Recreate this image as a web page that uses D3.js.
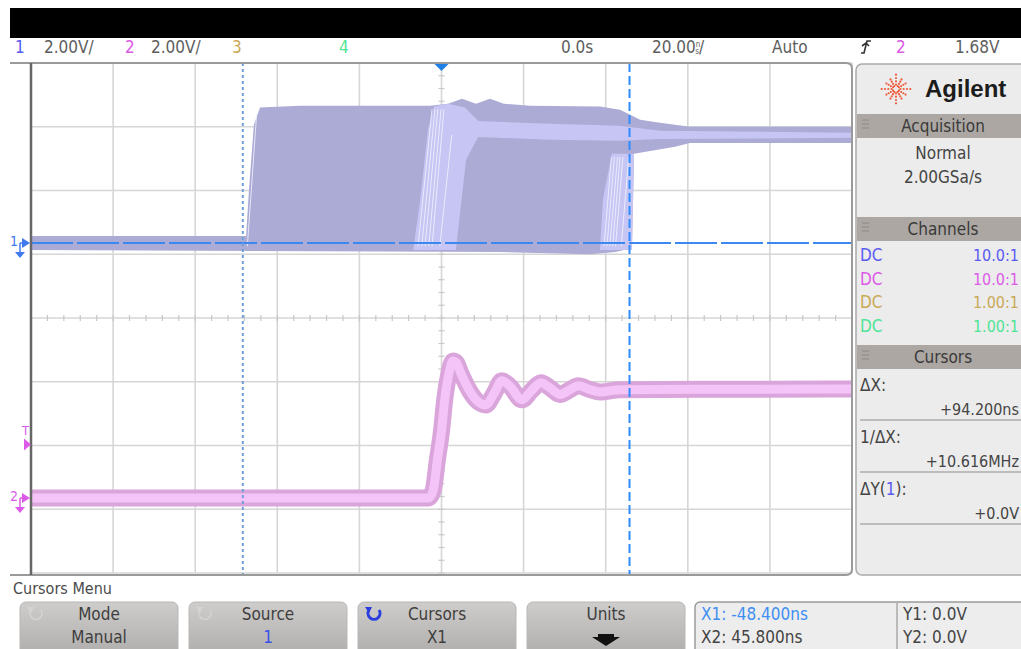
<!DOCTYPE html>
<html>
<head>
<meta charset="utf-8">
<script src="https://cdn.jsdelivr.net/npm/d3@7"></script>
<style>
    html, body { margin: 0; padding: 0; background: #fff; overflow: hidden; }
    svg { display: block; }
    text { font-family: 'DejaVu Sans Condensed', 'Liberation Sans Narrow', sans-serif; }
</style>
</head>
<body>
<svg id="scope" width="1021" height="649"></svg>
<script>
// Scope settings
const timePerDiv = 20;          // ns / div
const voltsPerDiv = [2, 2];     // ch1, ch2
const ch1Offset = 1.176;        // ground position, divisions from centre
const ch2Offset = -2.824;
const triggerLevel = 1.68;      // V on ch2
const cursorX = [-48.4, 45.8];  // ns
const cursorY = 0.0;            // V on ch1

// Channel 1 persistence envelope [ns, V]
const ch1Upper = [[-100, 0.22], [-47.6, 0.22], [-46.9, 1.67], [-45.7, 3.71], [-44.2, 4.25], [-34.5, 4.31],
    [-2.8, 4.31], [1.6, 4.37], [5.0, 4.53], [8.4, 4.37], [11.8, 4.53], [15.2, 4.37], [21.6, 4.31],
    [38.6, 4.28], [43.5, 4.18], [48.4, 3.87], [53.2, 3.77], [60.5, 3.65], [100, 3.65]];
const ch1Lower = [[100, 3.14], [60.5, 3.14], [56.9, 3.02], [50.8, 2.89], [46.9, 2.80], [46.4, -0.16],
    [42.3, -0.28], [36.2, -0.35], [14.3, -0.28], [-100, -0.22]];
// brighter (denser) regions of the persistence display
const ch1MidBand = [[6.9, 3.84], [26.4, 3.74], [43.5, 3.68], [53.2, 3.52], [100, 3.46],
    [100, 3.30], [53.2, 3.26], [43.5, 3.21], [26.4, 3.24], [8.9, 3.33]];
const ch1EdgeBundleA = [[-6.9, -0.22], [3.5, -0.22], [6.0, 2.61], [8.9, 3.33], [8.9, 3.84],
    [5.7, 4.25], [1.6, 4.37], [-1.8, 4.28], [-3.3, 3.55], [-5.2, 1.35]];
const ch1EdgeBundleC = [[38.6, -0.22], [46.4, -0.22], [46.9, 2.80], [41.5, 2.80], [39.3, 1.35]];
// individual edges visible in the bundles [t bottom, t top, V top]
const ch1Edges = [[-47.3, -45.0, 4.1], [-5.7, -2.3, 4.2], [-4.8, -1.6, 4.2], [-4.0, -0.9, 4.2],
    [-3.1, -0.1, 4.2], [-2.3, 0.6, 4.2], [-0.4, 2.5, 3.4], [39.6, 41.4, 2.7], [40.3, 42.1, 2.7],
    [41.0, 42.9, 2.7], [41.7, 43.5, 2.7], [42.4, 44.2, 2.7], [43.8, 45.6, 2.7]];

// Channel 2 trace centre [ns, V]
const ch2Trace = [[-100, 0], [-20, 0], [-3.2, 0], [-2.0, 0.25], [-1.0, 1.2], [0, 2.1], [0.8, 3.1],
    [1.8, 3.9], [2.8, 4.3], [3.6, 4.25], [4.6, 3.95], [6.9, 3.35], [8.9, 3.02], [10.8, 2.92],
    [12.8, 3.28], [14.7, 3.68], [16.7, 3.50], [19.6, 3.08], [22.0, 3.38], [24.2, 3.62],
    [26.4, 3.46], [28.9, 3.25], [31.3, 3.40], [33.3, 3.52], [36.2, 3.40], [38.6, 3.33],
    [43.5, 3.40], [100, 3.42]];

// Texts
const channelNames = ['1', '2', '3', '4'];
const channelScales = ['2.00V/', '2.00V/'];
const probeRatios = ['10.0:1', '10.0:1', '1.00:1', '1.00:1'];
const channelColors = ['#5a5af2', '#dc5ae8', '#c9a955', '#4fe496'];
const acqLines = ['Normal', '2.00GSa/s'];
const cursorReadout = [['ΔX:', '+94.200ns'], ['1/ΔX:', '+10.616MHz'], ['ΔY(1):', '+0.0V']];
const softkeys = [['Mode', 'Manual'], ['Source', '1'], ['Cursors', 'X1'], ['Units', '']];

const svg = d3.select('#scope');

// plot geometry
const plotL = 31, plotR = 852, plotT = 63, plotB = 573;
const x = d3.scaleLinear().domain([-5 * timePerDiv, 5 * timePerDiv]).range([plotL, plotR]);
const yDiv = d3.scaleLinear().domain([-4, 4]).range([plotB, plotT]);
const y1 = v => yDiv(ch1Offset + v / voltsPerDiv[0]);
const y2 = v => yDiv(ch2Offset + v / voltsPerDiv[1]);
const fmt = f => v => d3.format(f)(v).replace('\u2212', '-');

// top black bar
svg.append('rect').attr('x', 10).attr('y', 8).attr('width', 1011).attr('height', 30).attr('fill', '#000');

// grid
const grid = svg.append('g');
grid.selectAll('.vg').data(x.ticks(10)).enter().append('line')
    .attr('x1', d => x(d)).attr('x2', d => x(d)).attr('y1', plotT).attr('y2', plotB)
    .style('stroke', '#d6d6d6').style('stroke-width', 1.6);
grid.selectAll('.hg').data(yDiv.ticks(8)).enter().append('line')
    .attr('x1', plotL).attr('x2', plotR).attr('y1', d => yDiv(d)).attr('y2', d => yDiv(d))
    .style('stroke', '#d6d6d6').style('stroke-width', 1.6);
// minor ticks on centre lines
grid.selectAll('.mx').data(d3.range(-100, 100.01, 4)).enter().append('line')
    .attr('x1', d => x(d)).attr('x2', d => x(d)).attr('y1', yDiv(0) - 3).attr('y2', yDiv(0) + 3)
    .style('stroke', '#c8c8c8').style('stroke-width', 1.2);
grid.selectAll('.my').data(d3.range(-4, 4.01, 0.2)).enter().append('line')
    .attr('x1', x(0) - 3).attr('x2', x(0) + 3).attr('y1', d => yDiv(d)).attr('y2', d => yDiv(d))
    .style('stroke', '#c8c8c8').style('stroke-width', 1.2);

// channel 1
const line1 = d3.line().x(d => x(d[0])).y(d => y1(d[1]));
svg.append('path').attr('d', line1(ch1Upper.concat(ch1Lower)) + 'Z')
    .style('fill', '#acabd6');
[ch1MidBand, ch1EdgeBundleA, ch1EdgeBundleC].forEach(poly => {
    svg.append('path').attr('d', line1(poly) + 'Z').style('fill', '#c6c5f3');
});
svg.selectAll('.edge').data(ch1Edges).enter().append('path')
    .attr('d', d => line1([[d[0], -0.1], [d[1], d[2]]]))
    .style('stroke', '#f4f4ff').style('stroke-width', 1).style('fill', 'none').style('opacity', 0.8);

// channel 2
const line2 = d3.line().x(d => x(d[0])).y(d => y2(d[1])).curve(d3.curveMonotoneX);
svg.append('path').attr('d', line2(ch2Trace))
    .style('fill', 'none').style('stroke', '#d9a5da').style('stroke-width', 17)
    .style('stroke-linejoin', 'round');
svg.append('path').attr('d', line2(ch2Trace))
    .style('fill', 'none').style('stroke', '#f4c3f7').style('stroke-width', 9)
    .style('stroke-linejoin', 'round');

// cursors
svg.append('line').attr('x1', plotL).attr('x2', plotR).attr('y1', y1(cursorY)).attr('y2', y1(cursorY))
    .style('stroke', '#3a88f0').style('stroke-width', 2).style('stroke-dasharray', '42,4');
svg.append('line').attr('x1', x(cursorX[0])).attr('x2', x(cursorX[0])).attr('y1', plotT).attr('y2', plotB + 2)
    .style('stroke', '#6f9fd8').style('stroke-width', 2).style('stroke-dasharray', '3,3');
svg.append('line').attr('x1', x(cursorX[1])).attr('x2', x(cursorX[1])).attr('y1', plotT).attr('y2', plotB + 2)
    .style('stroke', '#2e8cff').style('stroke-width', 2).style('stroke-dasharray', '9,4');

// graticule frame
svg.append('path')
    .attr('d', `M10,${plotT} H${plotR - 6} Q${plotR},${plotT} ${plotR},${plotT + 6} V${plotB - 4} Q${plotR},${plotB + 2} ${plotR - 6},${plotB + 2} H10`)
    .style('fill', 'none').style('stroke', '#9a9a9a').style('stroke-width', 2);
svg.append('line').attr('x1', plotL).attr('x2', plotL).attr('y1', plotT).attr('y2', plotB + 2)
    .style('stroke', '#666').style('stroke-width', 2.5);

// trigger position marker
svg.append('path').attr('d', `M${x(0) - 7},${plotT + 1} L${x(0) + 7},${plotT + 1} L${x(0)},${plotT + 8}Z`)
    .style('fill', '#1f7fe6');

// left ground / trigger markers
function groundMarker(yy, label, color) {
    const g = svg.append('g').style('fill', color).style('stroke', color);
    g.append('text').attr('x', 10).attr('y', yy + 3).style('font-size', '14px').style('stroke', 'none').text(label);
    g.append('path').attr('d', `M22,${yy - 5} L30,${yy} L22,${yy + 5}Z`).style('stroke', 'none');
    g.append('line').attr('x1', 20).attr('x2', 20).attr('y1', yy).attr('y2', yy + 9).style('stroke-width', 1.5);
    g.append('line').attr('x1', 20).attr('x2', 26).attr('y1', yy).attr('y2', yy).style('stroke-width', 1.5);
    g.append('path').attr('d', `M15,${yy + 9} L25,${yy + 9} L20,${yy + 15}Z`).style('stroke', 'none');
}
groundMarker(y1(0), channelNames[0], '#3f79ee');
groundMarker(y2(0), channelNames[1], '#dc5ae8');
const yT = y2(triggerLevel);
svg.append('text').attr('x', 22).attr('y', yT - 9).style('font-size', '13px').style('fill', '#dc5ae8').text('T');
svg.append('path').attr('d', `M24,${yT - 6} L31,${yT} L24,${yT + 6}Z`).style('fill', '#dc5ae8');

// header row
const hdrY = 53, hdrSize = '17px', grey = '#5e5e5e';
const hdr = svg.append('g').style('font-size', hdrSize);
hdr.append('text').attr('x', 15).attr('y', hdrY).style('fill', channelColors[0]).text(channelNames[0]);
hdr.append('text').attr('x', 44).attr('y', hdrY).style('fill', grey).text(channelScales[0]);
hdr.append('text').attr('x', 125).attr('y', hdrY).style('fill', channelColors[1]).text(channelNames[1]);
hdr.append('text').attr('x', 151).attr('y', hdrY).style('fill', grey).text(channelScales[1]);
hdr.append('text').attr('x', 232).attr('y', hdrY).style('fill', channelColors[2]).text(channelNames[2]);
hdr.append('text').attr('x', 339).attr('y', hdrY).style('fill', channelColors[3]).text(channelNames[3]);
hdr.append('text').attr('x', 561).attr('y', hdrY).style('fill', grey).text('0.0s');
const tb = hdr.append('text').attr('x', 652).attr('y', hdrY).style('fill', grey);
tb.append('tspan').text(fmt('.2f')(timePerDiv));
tb.append('tspan').attr('dy', -6).style('font-size', '8px').text('n');
tb.append('tspan').attr('dx', -5).attr('dy', 7).style('font-size', '8px').text('s');
tb.append('tspan').attr('dy', -1).text('/');
hdr.append('text').attr('x', 772).attr('y', hdrY).style('fill', grey).text('Auto');
hdr.append('path').attr('d', 'M861,53 L864,53 L867,41 L871,41 M862,46 L866,43 L869,46')
    .style('fill', 'none').style('stroke', '#333').style('stroke-width', 1.6);
hdr.append('text').attr('x', 896).attr('y', hdrY).style('fill', channelColors[1]).text(channelNames[1]);
hdr.append('text').attr('x', 955).attr('y', hdrY).style('fill', grey).text(fmt('.2f')(triggerLevel) + 'V');

// right side panel
const pX = 856;
svg.append('rect').attr('x', pX).attr('y', 64).attr('width', 180).attr('height', 511).attr('rx', 6)
    .style('fill', '#ececec').style('stroke', '#a9a9a9').style('stroke-width', 1.5);

// Agilent spark logo
const logo = svg.append('g').attr('transform', 'translate(896,89)');
d3.range(0, 360, 30).forEach(a => {
    const r = Math.PI * a / 180;
    logo.selectAll(null).data([4, 7, 10, 13]).enter().append('circle')
        .attr('cx', d => Math.cos(r) * d * (a % 90 === 0 ? 1.1 : 0.85))
        .attr('cy', d => Math.sin(r) * d * (a % 90 === 0 ? 1.1 : 0.85))
        .attr('r', 1.1).style('fill', '#ee5a3a');
});
svg.append('text').attr('x', 925).attr('y', 97)
    .style('font-family', "'Liberation Sans', Arial, sans-serif").style('font-weight', 'bold')
    .style('font-size', '24px').style('fill', '#1c1c1c').text('Agilent');

function sectionHeader(yy, label) {
    svg.append('rect').attr('x', pX + 1).attr('y', yy).attr('width', 165).attr('height', 24).style('fill', '#aca7a3');
    [4, 8, 12].forEach(o => {
        svg.append('line').attr('x1', pX + 6).attr('x2', pX + 13).attr('y1', yy + o + 2).attr('y2', yy + o + 2)
            .style('stroke', '#8f8a86').style('stroke-width', 1);
    });
    svg.append('text').attr('x', 943).attr('y', yy + 18).attr('text-anchor', 'middle')
        .style('font-size', '17px').style('fill', '#3a3a3a').text(label);
}
sectionHeader(114, 'Acquisition');
acqLines.forEach((t, i) => {
    svg.append('text').attr('x', 943).attr('y', 159 + i * 24).attr('text-anchor', 'middle')
        .style('font-size', '17px').style('fill', '#444').text(t);
});
sectionHeader(217, 'Channels');
probeRatios.forEach((r, i) => {
    const yy = 261 + i * 23.6;
    svg.append('text').attr('x', 860).attr('y', yy).style('font-size', '17px').style('fill', channelColors[i]).text('DC');
    svg.append('text').attr('x', 1019).attr('y', yy).attr('text-anchor', 'end')
        .style('font-size', '16px').style('fill', channelColors[i]).text(r);
});
sectionHeader(345, 'Cursors');
cursorReadout.forEach((c, i) => {
    const yy = 391 + i * 52;
    const lab = svg.append('text').attr('x', 860).attr('y', yy).style('font-size', '17px').style('fill', '#444');
    if (c[0].includes('(')) {
        lab.append('tspan').text('ΔY(');
        lab.append('tspan').style('fill', channelColors[0]).text('1');
        lab.append('tspan').text('):');
    } else lab.text(c[0]);
    svg.append('text').attr('x', 1019).attr('y', yy + 24).attr('text-anchor', 'end')
        .style('font-size', '16px').style('fill', '#444').text(c[1]);
    svg.append('line').attr('x1', 860).attr('x2', 1021).attr('y1', yy + 29).attr('y2', yy + 29)
        .style('stroke', '#8c8c8c').style('stroke-width', 1.2);
});

// softkey menu
svg.append('text').attr('x', 13).attr('y', 594).style('font-size', '16px').style('fill', '#4a4a4a').text('Cursors Menu');
const grad = svg.append('defs').append('linearGradient').attr('id', 'key').attr('x1', 0).attr('x2', 0).attr('y1', 0).attr('y2', 1);
grad.append('stop').attr('offset', 0).attr('stop-color', '#cfcdcb');
grad.append('stop').attr('offset', 1).attr('stop-color', '#aeacaa');
const keyX = [20, 189, 358, 527];
softkeys.forEach((k, i) => {
    const kx = keyX[i];
    svg.append('rect').attr('x', kx).attr('y', 602).attr('width', 158).attr('height', 56).attr('rx', 6)
        .style('fill', 'url(#key)').style('stroke', '#b9b7b5');
    svg.append('text').attr('x', kx + 79).attr('y', 620).attr('text-anchor', 'middle')
        .style('font-size', '17px').style('fill', '#3e3e3e').text(k[0]);
    svg.append('text').attr('x', kx + 79).attr('y', 643).attr('text-anchor', 'middle')
        .style('font-size', '17px').style('fill', i === 1 ? '#3b50e8' : '#3e3e3e').text(k[1]);
    if (i < 3) {
        const c = i === 2 ? '#2a3ee0' : '#d6d4d2';
        const cx = kx + 16, cy = 614;
        svg.append('path').attr('d', `M${cx + 5},${cy - 4} A6,6 0 1 1 ${cx - 5},${cy - 4}`)
            .style('fill', 'none').style('stroke', c).style('stroke-width', i === 2 ? 3 : 1.5);
        svg.append('path').attr('d', `M${cx - 9},${cy - 7} L${cx - 2},${cy - 7} L${cx - 5},${cy - 1}Z`).style('fill', c);
    }
});
svg.append('path').attr('d', 'M598,634 L614,634 L614,637 L620,637 L606,646 L592,637 L598,637Z').style('fill', '#111');

// cursor readout box
svg.append('rect').attr('x', 695).attr('y', 602).attr('width', 340).attr('height', 56).attr('rx', 5)
    .style('fill', '#ededed').style('stroke', '#9a9a9a').style('stroke-width', 1.5);
svg.append('line').attr('x1', 897).attr('x2', 897).attr('y1', 603).attr('y2', 649).style('stroke', '#888');
const fmtX = fmt('.3f');
svg.append('text').attr('x', 701).attr('y', 620).style('font-size', '17px').style('fill', '#3f8ff2')
    .text(`X1: ${fmtX(cursorX[0])}ns`);
svg.append('text').attr('x', 701).attr('y', 643).style('font-size', '17px').style('fill', '#444')
    .text(`X2: ${fmtX(cursorX[1])}ns`);
svg.append('text').attr('x', 903).attr('y', 620).style('font-size', '17px').style('fill', '#444')
    .text(`Y1: ${fmt('.1f')(cursorY)}V`);
svg.append('text').attr('x', 903).attr('y', 643).style('font-size', '17px').style('fill', '#444')
    .text(`Y2: ${fmt('.1f')(cursorY)}V`);
</script>
</body>
</html>
